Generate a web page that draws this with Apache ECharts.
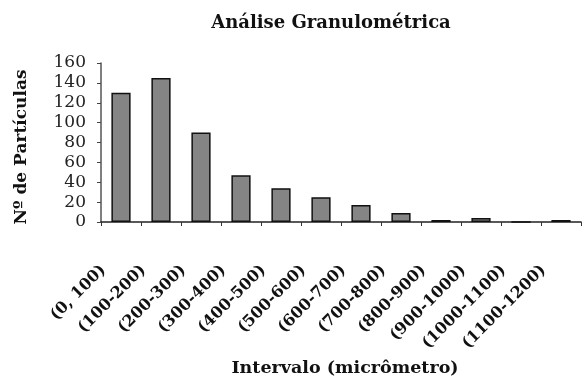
<!DOCTYPE html>
<html><head><meta charset="utf-8">
<script src="https://cdn.jsdelivr.net/npm/echarts@6/dist/echarts.min.js"></script>
<style>html,body{margin:0;padding:0;background:#fff}#c{width:582px;height:381px}</style>
</head><body><div id="c"></div>
<script>
const categories = ["(0, 100)","(100-200)","(200-300)","(300-400)","(400-500)","(500-600)","(600-700)","(700-800)","(800-900)","(900-1000)","(1000-1100)","(1100-1200)"];
const counts = [130, 145, 90, 47, 34, 25, 17, 9, 2, 4, 0, 2];
const yTicks = [0, 20, 40, 60, 80, 100, 120, 140, 160];

const serif = '"DejaVu Serif", "Liberation Serif", serif';
const chart = echarts.init(document.getElementById('c'), null, {renderer: 'canvas'});
chart.setOption({
  animation: false,
  title: {
    text: 'Análise Granulométrica', left: 331, top: 14, textAlign: 'center', padding: 0,
    textStyle: {fontFamily: serif, fontSize: 18, fontWeight: 'bold', color: '#111'}
  },
  grid: {left: 101, right: 1, top: 63, bottom: 159},
  xAxis: {
    type: 'category', data: categories,
    name: 'Intervalo (micrômetro)', nameLocation: 'middle', nameGap: 137,
    nameTextStyle: {fontFamily: serif, fontSize: 17.5, fontWeight: 'bold', color: '#111', padding: [0, 0, 0, 8]},
    axisLine: {lineStyle: {color: '#222', width: 1.5}},
    axisTick: {show: true, length: 4, lineStyle: {color: '#333'}},
    axisLabel: {rotate: 45, interval: 0, margin: 28, padding: [0, 25, 0, 0], fontFamily: serif, fontSize: 16, fontWeight: 'bold', color: '#111'}
  },
  yAxis: {
    type: 'value', min: 0, max: 160, interval: 20,
    name: 'Nº de Partículas', nameLocation: 'middle', nameGap: 71, nameRotate: 90,
    nameTextStyle: {fontFamily: serif, fontSize: 17, fontWeight: 'bold', color: '#111', padding: [0, 9, 0, 0]},
    axisLine: {show: true, lineStyle: {color: '#555', width: 1.5}},
    axisTick: {show: true, length: 4, lineStyle: {color: '#444'}},
    splitLine: {show: false},
    axisLabel: {margin: 15, fontFamily: serif, fontSize: 17, color: '#222',
      formatter: v => yTicks.includes(v) ? String(v) : ''}
  },
  series: [{
    type: 'bar', data: counts, barWidth: '48%',
    itemStyle: {color: '#858585', borderColor: '#111', borderWidth: 1.5}
  }]
});
</script>
</body></html>
